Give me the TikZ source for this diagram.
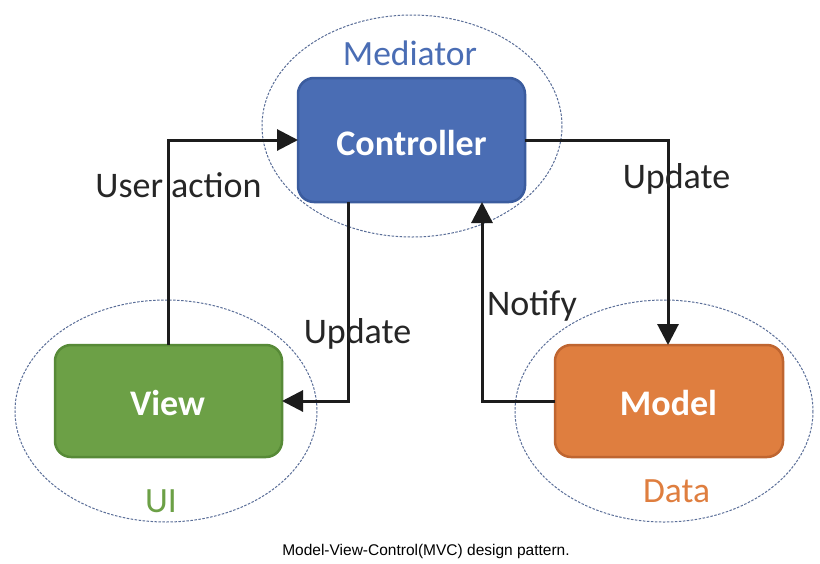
\documentclass[tikz,border=0pt]{standalone}
\usepackage{fontspec}
\setmainfont{Carlito}
\newfontfamily\capfont{Liberation Sans}
\usetikzlibrary{arrows.meta}
\definecolor{ctrlblue}{HTML}{4A6DB4}
\definecolor{ctrlborder}{HTML}{3B5C9E}
\definecolor{viewgreen}{HTML}{6CA046}
\definecolor{viewborder}{HTML}{578A37}
\definecolor{modelorange}{HTML}{DF7E3F}
\definecolor{modelborder}{HTML}{BF6530}
\definecolor{ellcol}{HTML}{5A6E98}
\definecolor{linecol}{HTML}{1C1C1C}
\definecolor{labcol}{HTML}{262626}
\tikzset{
  box/.style={draw, line width=2.5pt, rounded corners=16pt, inner sep=0pt},
  boxtext/.style={anchor=base, text=white, font=\fontsize{36}{40}\selectfont\bfseries, inner sep=0pt},
  grouptext/.style={anchor=base, font=\fontsize{35.5}{40}\selectfont, inner sep=0pt},
  lab/.style={anchor=base, text=labcol, font=\fontsize{36}{40}\selectfont, inner sep=0pt},
  grp/.style={draw=ellcol, line width=1pt, dash pattern=on 2.5pt off 1.5pt},
  conn/.style={draw=linecol, line width=3pt},
  arr/.style={conn, -{Triangle[length=21pt,width=21pt]}}
}
\begin{document}
\begin{tikzpicture}[x=1pt,y=-1pt]
\useasboundingbox[fill=white] (0,0) rectangle (820,563);
% group ellipses
\draw[grp] (412,126) ellipse [x radius=150, y radius=111];
\draw[grp] (166,411) ellipse [x radius=151, y radius=111];
\draw[grp] (664,411) ellipse [x radius=149, y radius=111];
% boxes
\draw[box, draw=ctrlborder, fill=ctrlblue] (298,78) rectangle (525,202);
\draw[box, draw=viewborder, fill=viewgreen] (55,345) rectangle (282,457);
\draw[box, draw=modelborder, fill=modelorange] (555,345) rectangle (783,457);
\coordinate (ctrlL) at (298,140);
\coordinate (ctrlR) at (525,140);
\coordinate (ctrlB1) at (348,202);
\coordinate (ctrlB2) at (482,202);
\coordinate (viewT) at (168,345);
\coordinate (viewR) at (282,401);
\coordinate (modelT) at (668,345);
\coordinate (modelL) at (555,401);
% box texts
\node[boxtext] (ctrl) at (411.5,155) {Controller};
\node[boxtext] (view) at (167.5,415) {View};
\node[boxtext] (model) at (668.5,415) {Model};
% group texts
\node[grouptext, text=ctrlblue] (med) at (410,65) {Mediator};
\node[grouptext, text=viewgreen] (ui) at (161,512) {UI};
\node[grouptext, text=modelorange] (data) at (676.5,502) {Data};
% connectors
\draw[arr] (viewT) |- (ctrlL);
\draw[arr] (ctrlR) -| (modelT);
\draw[arr] (ctrlB1) |- (viewR);
\draw[arr] (modelL) -| (ctrlB2);
% labels
\node[lab] (ua) at (178.5,197) {User action};
\node[lab] (upr) at (676.5,188) {Update};
\node[lab] (upm) at (357.5,343) {Update};
\node[lab] (nt) at (532,315) {Notify};
% caption
\node[anchor=base, inner sep=0pt, font=\capfont\fontsize{15.5}{18}\selectfont] (cap) at (426,555) {Model-View-Control(MVC) design pattern.};
\end{tikzpicture}
\end{document}
